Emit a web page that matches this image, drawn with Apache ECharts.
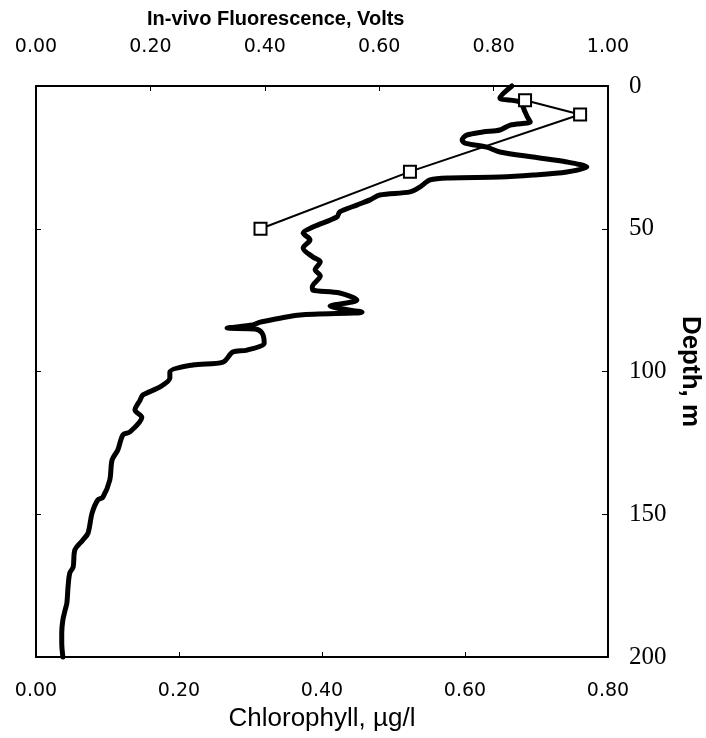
<!DOCTYPE html>
<html>
<head>
<meta charset="utf-8">
<script src="https://cdn.jsdelivr.net/npm/echarts@6/dist/echarts.min.js"></script>
<style>
html,body{margin:0;padding:0;background:#fff;}
#chart{width:706px;height:738px;}
</style>
</head>
<body>
<div id="chart"></div>
<script>
// In-vivo fluorescence profile (Volts, top axis) vs depth (m)
const fluorVolts = [0.832,0.811,0.846,0.855,0.860,0.864,0.829,0.811,0.781,0.753,0.745,0.750,0.788,0.811,0.869,0.928,0.963,0.928,0.869,0.811,0.724,0.689,0.671,0.654,0.601,0.584,0.561,0.531,0.526,0.484,0.467,0.479,0.467,0.484,0.497,0.488,0.497,0.483,0.484,0.531,0.561,0.514,0.570,0.462,0.392,0.379,0.334,0.383,0.395,0.399,0.369,0.344,0.327,0.274,0.234,0.234,0.217,0.187,0.182,0.173,0.185,0.164,0.152,0.143,0.133,0.129,0.117,0.108,0.098,0.091,0.082,0.068,0.065,0.059,0.056,0.054,0.051,0.047,0.045,0.045,0.047];
const fluorDepth = [0,4.2,5.6,9.1,11.2,12.6,13.7,15.4,16.1,17.2,18.9,20.0,21.4,23.1,24.9,26.6,28.4,30.1,31.2,31.9,32.2,32.9,35.4,37.1,38.2,39.9,41.7,44.1,45.9,49.4,51.5,53.9,56.7,59.9,61.6,64.4,66.5,70.4,71.5,72.5,75.0,77.1,79.2,80.2,82.7,83.7,84.8,85.1,86.5,90.0,92.5,93.2,96.7,97.7,100.2,102.3,105.4,108.2,110.0,113.5,116.0,121.2,122.2,127.5,131.0,138.0,144.0,145.0,149.6,156.6,159.0,162.5,168.5,170.6,175.5,181.1,183.5,187.0,191.6,195.1,200];
// Extracted chlorophyll samples (ug/l, bottom axis)
const chlValues = [0.684,0.761,0.523,0.314];
const chlDepth = [5,10,30,50];
// Axis ticks
const chlTicks = {min:0, max:0.8, interval:0.2};
const voltTicks = {min:0, max:1.0, interval:0.2};
const depthTicks = {min:0, max:200, interval:50};

const chart = echarts.init(document.getElementById('chart'), null, {renderer:'canvas'});
const sans = 'Liberation Sans, Arial, sans-serif';
const tickFont = 'DejaVu Sans, sans-serif';
const serif = 'Liberation Serif, Times New Roman, serif';
const lineBlack = {color:'#000', width:2};

chart.setOption({
  animation:false,
  backgroundColor:'#fff',
  title:{
    text:'In-vivo Fluorescence, Volts',
    left:142, top:4,
    textStyle:{fontFamily:sans, fontWeight:'bold', fontSize:20, color:'#000'}
  },
  grid:{left:36, right:98, top:86, bottom:81, containLabel:false, outerBoundsMode:'none'},
  xAxis:[
    {
      type:'value', position:'bottom', min:chlTicks.min, max:chlTicks.max, interval:chlTicks.interval,
      name:'Chlorophyll, \u00b5g/l', nameLocation:'middle', nameGap:44,
      nameTextStyle:{fontFamily:sans, fontSize:26, color:'#000'},
      axisLine:{show:true, onZero:false, lineStyle:lineBlack},
      axisTick:{show:true, inside:true, length:5, lineStyle:{color:'#000', width:1}},
      axisLabel:{fontFamily:tickFont, fontSize:19, color:'#000', margin:25, formatter:v=>v.toFixed(2)},
      splitLine:{show:false}
    },
    {
      type:'value', position:'top', min:voltTicks.min, max:voltTicks.max, interval:voltTicks.interval,
      axisLine:{show:true, onZero:false, lineStyle:lineBlack},
      axisTick:{show:true, inside:true, length:5, lineStyle:{color:'#000', width:1}},
      axisLabel:{fontFamily:tickFont, fontSize:19, color:'#000', margin:29, formatter:v=>v.toFixed(2)},
      splitLine:{show:false}
    }
  ],
  yAxis:[
    {
      type:'value', position:'right', inverse:true, min:depthTicks.min, max:depthTicks.max, interval:depthTicks.interval,
      name:'Depth, m', nameLocation:'middle', nameGap:65, nameRotate:-90,
      nameTextStyle:{fontFamily:sans, fontWeight:'bold', fontSize:26, color:'#000'},
      axisLine:{show:true, onZero:false, lineStyle:lineBlack},
      axisTick:{show:true, inside:true, length:6, lineStyle:{color:'#000', width:1}},
      axisLabel:{fontFamily:serif, fontSize:25, color:'#000', margin:21},
      splitLine:{show:false}
    },
    {
      type:'value', position:'left', inverse:true, min:depthTicks.min, max:depthTicks.max, interval:depthTicks.interval,
      axisLine:{show:true, onZero:false, lineStyle:lineBlack},
      axisTick:{show:true, inside:true, length:5, lineStyle:{color:'#000', width:1}},
      axisLabel:{show:false},
      splitLine:{show:false}
    }
  ],
  series:[
    {
      name:'Fluorescence', type:'line', xAxisIndex:1, yAxisIndex:0,
      data:fluorVolts.map((v,i)=>[v, fluorDepth[i]]),
      showSymbol:false, smooth:0.3, clip:false,
      lineStyle:{color:'#000', width:5, cap:'round', join:'round'},
      z:2
    },
    {
      name:'Chlorophyll', type:'line', xAxisIndex:0, yAxisIndex:0,
      data:chlValues.map((v,i)=>[v, chlDepth[i]]),
      symbol:'rect', symbolSize:12, showSymbol:true, clip:false,
      lineStyle:{color:'#000', width:2},
      itemStyle:{color:'#fff', borderColor:'#000', borderWidth:2},
      z:3
    }
  ]
});
</script>
</body>
</html>
